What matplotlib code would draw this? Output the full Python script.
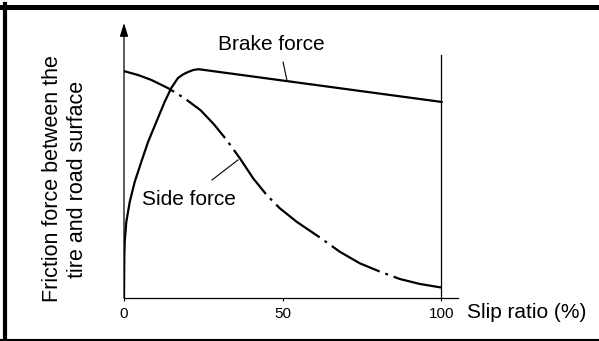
import matplotlib.pyplot as plt
from matplotlib.lines import Line2D

plt.rcParams['font.family'] = ['Liberation Sans', 'DejaVu Sans']

# Curvas de fuerza de fricción vs. deslizamiento
slip_brake = [0, 0.05, 0.1, 0.22, 0.72, 1.8, 3.37, 5.45, 7.56, 10.17, 12.8,
              14.9, 17.0, 18.6, 20.2, 21.8, 23.5, 100]
brake_force = [0, 0.08, 0.15, 0.204, 0.276, 0.349, 0.422, 0.495, 0.567, 0.64, 0.713,
               0.764, 0.8, 0.813, 0.822, 0.829, 0.832, 0.713]

slip_side = [0, 4.4, 8.6, 13.9, 19.1, 24.1, 28.3, 32.3, 36.5, 40.7, 44.9, 49.1,
             54.4, 61.7, 68, 74.3, 80.6, 86.9, 93.2, 100]
side_force = [0.825, 0.811, 0.793, 0.763, 0.726, 0.683, 0.632, 0.575, 0.508, 0.435,
              0.375, 0.326, 0.277, 0.22, 0.168, 0.126, 0.096, 0.069, 0.051, 0.038]

x_ticks = [0, 50, 100]
x_tick_labels = ['0', '50', '100']

fig = plt.figure(figsize=(5.99, 3.41), dpi=100)
ax = fig.add_axes([124 / 599, 43 / 341, 334 / 599, 275 / 341])
ax.set_xlim(0, 105.2)
ax.set_ylim(0, 1)

ax.plot(slip_brake, brake_force, color='black', lw=1.6, solid_joinstyle='round')
ax.plot(slip_side, side_force, color='black', lw=1.6,
        linestyle=(0, (24.5, 2.7, 1.3, 2.7)))

# ejes
for s in ['top', 'right', 'left']:
    ax.spines[s].set_visible(False)
ax.spines['bottom'].set_linewidth(0.9)
ax.annotate('', xy=(0, 1), xytext=(0, 0),
            arrowprops=dict(arrowstyle='-|>,head_length=0.8,head_width=0.25',
                            color='black', lw=0.9, shrinkA=0, shrinkB=0))
ax.plot([100, 100], [0, 0.884], color='black', lw=0.9)

ax.set_xticks(x_ticks)
ax.set_xticklabels(x_tick_labels, fontsize=11)
ax.tick_params(axis='x', direction='out', length=2.5, width=0.8, pad=4)
ax.set_yticks([])

ax.text(108, -0.052, 'Slip ratio (%)', fontsize=15, ha='left', va='center', clip_on=False)

# etiquetas de las curvas
ax.text(29.6, 0.902, 'Brake force', fontsize=15, ha='left', va='baseline')
ax.plot([50.1, 51.3], [0.858, 0.793], color='black', lw=0.8)
ax.text(5.7, 0.338, 'Side force', fontsize=15, ha='left', va='baseline')
ax.plot([27.7, 35.9], [0.429, 0.502], color='black', lw=0.8)

fig.text(65 / 599, 1 - 179 / 341, 'Friction force between the\ntire and road surface',
         rotation=90, fontsize=15.5, ha='center', va='center', multialignment='center',
         linespacing=1.3)

# marco
fig.add_artist(Line2D([0, 1], [1 - 6.5 / 341, 1 - 6.5 / 341], color='black', lw=3.6,
                      transform=fig.transFigure))
fig.add_artist(Line2D([5 / 599, 5 / 599], [0, 1 - 4 / 341], color='black', lw=3,
                      transform=fig.transFigure))
fig.add_artist(Line2D([0, 1], [1 / 341, 1 / 341], color='black', lw=1.5,
                      transform=fig.transFigure))

fig.savefig('out.png', dpi=100)
